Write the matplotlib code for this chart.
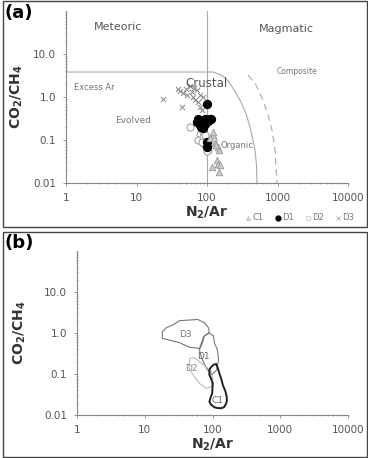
import matplotlib.pyplot as plt
from matplotlib.patches import Rectangle, Polygon
import numpy as np

# N2/Ar vs CO2/CH4 fluid inclusion data
c1_n2ar = [121, 130, 143, 150, 138, 143, 118, 150, 155, 110, 121, 135]
c1_co2ch4 = [0.13, 0.085, 0.069, 0.059, 0.034, 0.028, 0.024, 0.018, 0.026, 0.11, 0.15, 0.075]
d1_n2ar = [100, 71, 75, 79, 88, 100, 110, 105, 93, 85, 100, 100, 115, 82, 95]
d1_co2ch4 = [0.69, 0.26, 0.30, 0.22, 0.19, 0.29, 0.31, 0.27, 0.24, 0.21, 0.089, 0.07, 0.30, 0.20, 0.30]
d2_n2ar = [57, 79, 75, 88, 93, 103, 88, 110, 121, 100, 85, 95]
d2_co2ch4 = [0.20, 0.14, 0.10, 0.12, 0.076, 0.059, 0.16, 0.085, 0.10, 0.055, 0.09, 0.13]
d3_n2ar = [24, 44, 39, 46, 52, 63, 61, 71, 88, 75, 79, 85, 68, 57, 50, 42, 80, 65]
d3_co2ch4 = [0.9, 0.59, 1.53, 1.24, 1.12, 1.0, 1.3, 1.45, 1.0, 0.77, 0.59, 0.50, 0.85, 1.8, 1.5, 1.35, 1.1, 1.6]

# field boundaries
crustal_x = [1, 100, 122, 158, 180, 205, 242, 294, 357, 407, 449, 479, 504, 512]
crustal_y = [3.81, 3.81, 3.81, 3.25, 2.77, 2.23, 1.46, 0.85, 0.42, 0.20, 0.10, 0.058, 0.026, 0.01]
composite_x = [383, 495, 622, 733, 836, 922, 984]
composite_y = [3.25, 1.9, 0.85, 0.38, 0.17, 0.058, 0.01]

# group envelopes
d3_env = [(18.2, 0.74), (18.2, 1.07), (20.9, 1.35), (26.1, 1.57), (32.6, 2.0), (45.7, 2.07),
          (60.6, 2.14), (76, 1.78), (88.5, 1.3), (88.5, 1.02), (73.6, 0.81), (64.5, 0.42),
          (45.7, 0.45), (32.6, 0.58), (23.2, 0.67)]
d1_env = [(76, 0.85), (90, 1.0), (103, 0.85), (107, 0.57), (118, 0.39), (123, 0.22), (115, 0.126),
          (97, 0.095), (81, 0.14), (69, 0.25), (64, 0.39), (71, 0.57)]
d2_env = [(46, 0.24), (54, 0.25), (64, 0.2), (81, 0.15), (96, 0.115), (101, 0.079), (96, 0.049),
          (81, 0.045), (64, 0.059), (54, 0.086), (45, 0.138)]
c1_env = [(96, 0.15), (105, 0.17), (113, 0.175), (120, 0.14), (126, 0.105), (135, 0.075),
          (142, 0.054), (155, 0.038), (162, 0.028), (163, 0.022), (159, 0.019), (148, 0.0155),
          (134, 0.0146), (118, 0.0148), (107, 0.0154), (95, 0.018), (90, 0.021), (94, 0.027),
          (99, 0.034), (101, 0.059), (95, 0.078), (90, 0.095), (90, 0.126)]

xticks = [1, 10, 100, 1000, 10000]
xticklabels = ['1', '10', '100', '1000', '10000']
yticks = [0.01, 0.1, 1, 10]
yticklabels = ['0.01', '0.1', '1.0', '10.0']

tick_col = '#555555'
field_col = '#777777'

fig = plt.figure(figsize=(3.68, 4.58), dpi=100)

# panel frames
for y0, h in [(231 / 458, 226 / 458), (1 / 458, 225 / 458)]:
    fig.patches.append(Rectangle((3 / 368, y0), 364 / 368, h, transform=fig.transFigure,
                                 fill=False, ec='#444444', lw=1.0))


def setup_axes(ax, ypad):
    ax.set_xscale('log')
    ax.set_yscale('log')
    ax.set_xlim(1, 10000)
    ax.set_ylim(0.01, 100)
    ax.spines['top'].set_visible(False)
    ax.spines['right'].set_visible(False)
    for s in ['left', 'bottom']:
        ax.spines[s].set_color('#888888')
        ax.spines[s].set_linewidth(0.8)
    ax.set_xticks(xticks)
    ax.set_xticklabels(xticklabels)
    ax.set_yticks(yticks)
    ax.set_yticklabels(yticklabels)
    ax.tick_params(which='major', length=2, width=0.6, color='#888888', labelsize=7.5,
                   labelcolor=tick_col, pad=5)
    ax.tick_params(which='minor', length=1.5, width=0.5, color='#999999', direction='inout')
    ax.set_xlabel(r'$\mathbf{N_2/Ar}$', fontsize=10, color='#333333', labelpad=1)
    ax.set_ylabel(r'$\mathbf{CO_2/CH_4}$', fontsize=10, color='#333333', labelpad=ypad)


# ---------------------------------------------------------------- (a)
ax1 = fig.add_axes([66 / 368, 275 / 458, 282 / 368, 172 / 458])
setup_axes(ax1, 6)

ax1.plot(crustal_x, crustal_y, color='#aaaaaa', lw=0.8)
ax1.plot(composite_x, composite_y, color='#aaaaaa', lw=0.8, ls=(0, (6, 4)))
ax1.axvline(100, color='#aaaaaa', lw=0.8)

ax1.scatter(d3_n2ar, d3_co2ch4, marker='x', s=14, color='#888888', lw=0.7, zorder=3)
ax1.scatter(d2_n2ar, d2_co2ch4, marker='o', s=26, facecolor='white', edgecolor='#999999', lw=0.7, zorder=3)
ax1.scatter(d1_n2ar, d1_co2ch4, marker='o', s=32, color='black', zorder=4)
ax1.scatter(c1_n2ar, c1_co2ch4, marker='^', s=22, facecolor='#cccccc', edgecolor='#999999', lw=0.6, zorder=4)

ax1.text(5.5, 43, 'Meteoric', fontsize=8, color='#555555', ha='center', va='center')
ax1.text(1320, 38, 'Magmatic', fontsize=8, color='#555555', ha='center', va='center')
ax1.text(1900, 4.0, 'Composite', fontsize=5.5, color=field_col, ha='center', va='center')
ax1.text(2.5, 1.7, 'Excess Ar', fontsize=6, color=field_col, ha='center', va='center')
ax1.text(8.9, 0.28, 'Evolved', fontsize=6.5, color=field_col, ha='center', va='center')
ax1.text(100, 2.1, 'Crustal', fontsize=8.5, color='#555555', ha='center', va='center')
ax1.text(265, 0.073, 'Organic', fontsize=6, color=field_col, ha='center', va='center')

# legend row
leg = ax1.legend(handles=[
    plt.Line2D([], [], marker='^', ls='', ms=3, mfc='#dddddd', mec='#bbbbbb', mew=0.5, label='C1'),
    plt.Line2D([], [], marker='o', ls='', ms=3.5, color='black', label='D1'),
    plt.Line2D([], [], marker='o', ls='', ms=3.5, mfc='white', mec='#bbbbbb', mew=0.5, label='D2'),
    plt.Line2D([], [], marker='x', ls='', ms=3.5, color='#aaaaaa', mew=0.6, label='D3')],
    ncol=4, frameon=False, fontsize=6, labelcolor='#777777', handlelength=0.6,
    handletextpad=0.2, columnspacing=1.4, loc='center', bbox_to_anchor=(300 / 368, 240 / 458),
    bbox_transform=fig.transFigure)

fig.text(5 / 368, 1 - 13 / 458, '(a)', fontsize=13, fontweight='bold', va='center', ha='left')

# ---------------------------------------------------------------- (b)
ax2 = fig.add_axes([77 / 368, 43 / 458, 271 / 368, 164 / 458])
setup_axes(ax2, 12)

ax2.add_patch(Polygon(d3_env, closed=True, fill=False, ec='#777777', lw=0.8))
ax2.add_patch(Polygon(d1_env, closed=True, fill=False, ec='#777777', lw=0.8))
ax2.add_patch(Polygon(d2_env, closed=True, fill=False, ec='#bbbbbb', lw=0.8))
ax2.add_patch(Polygon(c1_env, closed=True, fill=False, ec='#222222', lw=1.4))

ax2.text(40, 0.93, 'D3', fontsize=6.5, color='#777777', ha='center', va='center')
ax2.text(74, 0.27, 'D1', fontsize=6.5, color='#666666', ha='center', va='center')
ax2.text(49, 0.14, 'D2', fontsize=6.5, color='#888888', ha='center', va='center')
ax2.text(120, 0.022, 'C1', fontsize=6.5, color='#666666', ha='center', va='center')

fig.text(5 / 368, 1 - 243 / 458, '(b)', fontsize=13, fontweight='bold', va='center', ha='left')

fig.savefig('out.png', dpi=100)
